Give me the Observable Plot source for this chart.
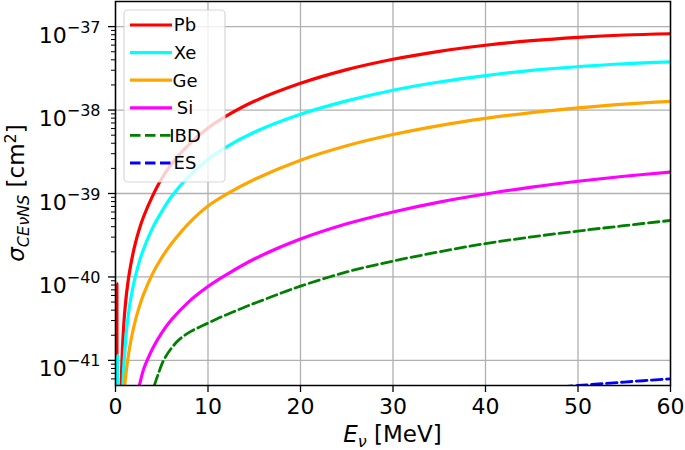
<!DOCTYPE html>
<html><head><meta charset="utf-8">
<script src="https://cdn.jsdelivr.net/npm/d3@7"></script>
<script src="https://cdn.jsdelivr.net/npm/@observablehq/plot@0.6"></script>
<style>
body{margin:0;background:#fff}
#chart{position:relative;width:685px;height:450px}
</style>
</head><body><div id="chart"></div>
<script>
// ---- data ----
const series = ["Pb", "Xe", "Ge", "Si", "IBD", "ES"];
const xTicks = [0, 10, 20, 30, 40, 50, 60];
const yTicks = [1e-41, 1e-40, 1e-39, 1e-38, 1e-37];
const yMinorTicks = [6e-42,7e-42,8e-42,9e-42,
  2e-41,3e-41,4e-41,5e-41,6e-41,7e-41,8e-41,9e-41,
  2e-40,3e-40,4e-40,5e-40,6e-40,7e-40,8e-40,9e-40,
  2e-39,3e-39,4e-39,5e-39,6e-39,7e-39,8e-39,9e-39,
  2e-38,3e-38,4e-38,5e-38,6e-38,7e-38,8e-38,9e-38];

// null = break in the curve (thin spike near E = 0, then the main curve)
const pbE     = [0.14, 0.15, 0.16, 0.3, 0.6, 0.62, 0.65, 0.7, 0.8, 0.9, 1.0, 1.2, 1.5, 2, 2.5, 3, 4, 5, 6, 8, 10, 12, 15, 20, 25, 30, 35, 40, 45, 50, 55, 60];
const pbSigma = [5e-42, 8.3e-41, 5e-42, null, 4.15e-42, 5.19e-42, 6.9e-42, 1.016e-41, 1.8e-41, 2.75e-41, 3.83e-41, 6.41e-41, 1.122e-40, 2.17e-40, 3.52e-40, 5.15e-40, 9.31e-40, 1.514e-39, 2.21e-39, 3.94e-39, 6.1e-39, 8.51e-39, 1.274e-38, 2.09e-38, 3.05e-38, 4.06e-38, 5.06e-38, 5.98e-38, 6.78e-38, 7.43e-38, 7.93e-38, 8.22e-38];

const xeE     = [0.21, 0.22, 0.23, 0.4, 0.78, 0.8, 0.85, 0.95, 1.1, 1.3, 1.6, 2, 2.5, 3, 4, 5, 6, 8, 10, 12, 15, 20, 25, 30, 35, 40, 45, 50, 55, 60];
const xeSigma = [5e-42, 1.15e-41, 5e-42, null, 4.43e-42, 5.06e-42, 6.78e-42, 1.074e-41, 1.79e-41, 2.95e-41, 5.09e-41, 8.67e-41, 1.426e-40, 2.11e-40, 3.85e-40, 6.07e-40, 9.02e-40, 1.64e-39, 2.57e-39, 3.63e-39, 5.43e-39, 8.91e-39, 1.288e-38, 1.73e-38, 2.17e-38, 2.59e-38, 2.99e-38, 3.31e-38, 3.59e-38, 3.78e-38];

const geE     = [0.95, 1.0, 1.1, 1.3, 1.6, 2, 2.5, 3, 4, 5, 6, 8, 10, 12, 15, 20, 25, 30, 35, 40, 45, 50, 55, 60];
const geSigma = [4.37e-42, 5.02e-42, 6.46e-42, 9.77e-42, 1.58e-41, 2.58e-41, 4.14e-41, 6.05e-41, 1.089e-40, 1.706e-40, 2.46e-40, 4.47e-40, 7.08e-40, 9.8e-40, 1.472e-39, 2.51e-39, 3.74e-39, 5.09e-39, 6.52e-39, 7.94e-39, 9.33e-39, 1.062e-38, 1.18e-38, 1.274e-38];

const siE     = [2.5, 2.6, 3, 3.5, 4, 5, 6, 8, 10, 12, 15, 20, 25, 30, 35, 40, 45, 50, 55, 60];
const siSigma = [4.73e-42, 5.12e-42, 7.59e-42, 1.047e-41, 1.38e-41, 2.14e-41, 3.02e-41, 5.13e-41, 7.67e-41, 1.064e-40, 1.64e-40, 2.84e-40, 4.33e-40, 6.01e-40, 7.89e-40, 9.86e-40, 1.194e-39, 1.403e-39, 1.61e-39, 1.807e-39];

const ibdE     = [4.2, 4.6, 5.2, 6, 7, 8.2, 9.5, 11, 12.5, 14, 16, 18, 20, 25, 30, 35, 40, 45, 50, 55, 60];
const ibdSigma = [5.01e-42, 6.76e-42, 1.0e-41, 1.38e-41, 1.82e-41, 2.24e-41, 2.63e-41, 3.16e-41, 3.72e-41, 4.37e-41, 5.31e-41, 6.46e-41, 7.76e-41, 1.148e-40, 1.549e-40, 2.0e-40, 2.51e-40, 3.02e-40, 3.55e-40, 4.12e-40, 4.75e-40];

const esE     = [45, 50, 55, 60];
const esSigma = [4.5e-42, 5.0e-42, 5.5e-42, 6.0e-42];

// ---- styles ----
const colors = {Pb: "#ff0000", Xe: "#00ffff", Ge: "#ffa500", Si: "#ff00ff", IBD: "#008000", ES: "#0000ff"};
const dashed = {Pb: false, Xe: false, Ge: false, Si: false, IBD: true, ES: true};

const sources = {Pb: [pbE, pbSigma], Xe: [xeE, xeSigma], Ge: [geE, geSigma], Si: [siE, siSigma], IBD: [ibdE, ibdSigma], ES: [esE, esSigma]};
const rows = series.map(name => {
  const [E, S] = sources[name];
  return {name, data: E.map((e, i) => ({E: e, sigma: S[i]}))};
});

const W = 685, H = 450, mL = 115, mR = 15, mT = 1, mB = 65;

const supFmt = d => "10^" + Math.round(Math.log10(d));

const plot = Plot.plot({
  width: W, height: H,
  marginLeft: mL, marginRight: mR, marginTop: mT, marginBottom: mB,
  style: {fontFamily: "DejaVu Sans", fontSize: "22px", color: "black", background: "white", overflow: "visible"},
  x: {domain: [0, 60], label: null},
  y: {type: "log", domain: [5e-42, 2e-37], label: null},
  marks: [
    Plot.gridX(xTicks, {stroke: "#b0b0b0", strokeOpacity: 1, strokeWidth: 1.3}),
    Plot.gridY(yTicks, {stroke: "#b0b0b0", strokeOpacity: 1, strokeWidth: 1.3}),
    ...rows.map(r => Plot.line(r.data, {
      x: "E", y: "sigma",
      stroke: colors[r.name], strokeWidth: dashed[r.name] ? 2.8 : 3.2,
      strokeDasharray: dashed[r.name] ? "10.5,4.5" : null,
      curve: "catmull-rom", clip: true
    })),
    Plot.axisX(xTicks, {tickSize: 7, tickPadding: 6, fontSize: 22, label: null, strokeWidth: 1.3}),
    Plot.axisY(yTicks, {tickSize: 7, tickPadding: 8, fontSize: 22, label: null, tickFormat: supFmt, strokeWidth: 1.3}),
    Plot.axisY(yMinorTicks, {tickSize: 4, tickFormat: () => "", label: null, strokeWidth: 1}),
    Plot.frame({stroke: "black", strokeWidth: 1.5})
  ]
});

document.getElementById("chart").appendChild(plot);
const svg = d3.select(plot);

// superscript exponents on y tick labels
svg.selectAll("text").each(function() {
  const t = this.textContent;
  if (t && t.startsWith("10^")) {
    const e = t.slice(3).replace("-", "\u2212");
    const sel = d3.select(this);
    sel.text("").attr("dy", "9px");
    sel.append("tspan").text("10");
    sel.append("tspan").attr("font-size", 16).attr("dy", -10).text(e);
  }
});

// axis labels
const xl = svg.append("text")
  .attr("x", (mL + W - mR) / 2).attr("y", 442)
  .attr("text-anchor", "middle").attr("font-size", 23).attr("fill", "black");
xl.append("tspan").attr("font-style", "italic").text("E");
xl.append("tspan").attr("font-style", "italic").attr("font-size", 16).attr("dy", 5).text("\u03bd");
xl.append("tspan").attr("dy", -5).text(" [MeV]");

const yl = svg.append("text")
  .attr("transform", `translate(24,${(mT + H - mB) / 2}) rotate(-90)`)
  .attr("text-anchor", "middle").attr("font-size", 23).attr("fill", "black");
yl.append("tspan").attr("font-style", "italic").text("\u03c3");
yl.append("tspan").attr("font-style", "italic").attr("font-size", 16).attr("dy", 5).text("CE\u03bdNS");
yl.append("tspan").attr("dy", -5).text(" [cm");
yl.append("tspan").attr("font-size", 16).attr("dy", -8).text("2");
yl.append("tspan").attr("dy", 8).text("]");

// legend
const lg = svg.append("g");
lg.append("rect").attr("x", 124).attr("y", 10).attr("width", 101).attr("height", 172)
  .attr("rx", 4).attr("fill", "white").attr("fill-opacity", 0.8)
  .attr("stroke", "#cccccc").attr("stroke-opacity", 0.8).attr("stroke-width", 1.2);
series.forEach((name, i) => {
  const cy = 25 + i * 27.6;
  lg.append("line").attr("x1", 130).attr("x2", 172).attr("y1", cy).attr("y2", cy)
    .attr("stroke", colors[name]).attr("stroke-width", dashed[name] ? 2.8 : 3.2)
    .attr("stroke-dasharray", dashed[name] ? "10.5,4.5" : null);
  lg.append("text").attr("x", 185).attr("y", cy).attr("dy", "0.36em")
    .attr("font-size", 18).attr("fill", "black").text(name);
});
</script>
</body></html>
